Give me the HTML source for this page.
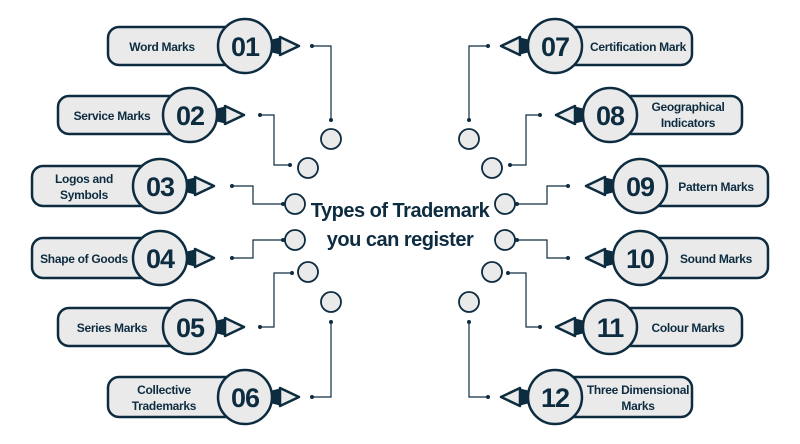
<!DOCTYPE html>
<html><head><meta charset="utf-8"><style>
body{margin:0;background:#fff}
svg{display:block}
text{font-family:"Liberation Sans",sans-serif;fill:#0d2c40}
.l{font-size:12px;font-weight:bold;letter-spacing:-0.3px}
.n{font-size:27px;font-weight:bold;letter-spacing:-1px}
.t{font-size:20px;font-weight:bold;letter-spacing:-0.5px}
</style></head><body>
<svg width="800" height="444" viewBox="0 0 800 444">
<defs>
<g id="arr">
<path d="M0,-6 L8,-8 L8,8 L0,6Z" fill="#0d2c40"/>
<polygon points="8,-9 27,0 8,9" fill="#eaeaea" stroke="#0d2c40" stroke-width="2.5" stroke-linejoin="round"/>
</g>
</defs>
<g id="left" stroke="#0d2c40" fill="#eaeaea">
<!-- connectors -->
<g fill="none" stroke-width="1.2">
<polyline points="312,46 331,46 331,120"/>
<polyline points="260,115 274,115 274,165 290,165"/>
<polyline points="232,186 253,186 253,204 283,204"/>
<polyline points="232,258 253,258 253,240 283,240"/>
<polyline points="260,327 274,327 274,273 292,273"/>
<polyline points="312,397 331,397 331,322"/>
</g>
<g fill="#0d2c40" stroke="none">
<circle cx="312" cy="46" r="2"/><circle cx="331" cy="120" r="2"/>
<circle cx="260" cy="115" r="2"/><circle cx="290" cy="165" r="2"/>
<circle cx="232" cy="186" r="2"/><circle cx="283" cy="204" r="2"/>
<circle cx="232" cy="258" r="2"/><circle cx="283" cy="240" r="2"/>
<circle cx="260" cy="327" r="2"/><circle cx="292" cy="273" r="2"/>
<circle cx="312" cy="397" r="2"/><circle cx="331" cy="322" r="2"/>
</g>
<g stroke-width="1.8">
<circle cx="331" cy="139" r="10"/><circle cx="308" cy="168" r="10"/>
<circle cx="295" cy="204" r="10"/><circle cx="295" cy="240" r="10"/>
<circle cx="308" cy="272" r="10"/><circle cx="331" cy="302" r="10"/>
</g>
<g stroke-width="2.5">
<rect x="108" y="27" width="140" height="38" rx="11"/>
<rect x="58" y="96" width="135" height="38" rx="11"/>
<rect x="32" y="166" width="130" height="40" rx="11"/>
<rect x="32" y="238" width="130" height="40" rx="11"/>
<rect x="58" y="308" width="135" height="38" rx="11"/>
<rect x="108" y="377" width="140" height="40" rx="11"/>
<circle cx="245" cy="46" r="27"/>
<circle cx="190" cy="115" r="27"/>
<circle cx="160" cy="186" r="27"/>
<circle cx="160" cy="258" r="27"/>
<circle cx="190" cy="327" r="27"/>
<circle cx="245" cy="397" r="27"/>
</g>
<use href="#arr" x="272" y="46"/>
<use href="#arr" x="217" y="115"/>
<use href="#arr" x="187" y="186"/>
<use href="#arr" x="187" y="258"/>
<use href="#arr" x="217" y="327"/>
<use href="#arr" x="272" y="397"/>
</g>
<use href="#left" transform="translate(800,0) scale(-1,1)"/>

<g text-anchor="middle">
<text class="l" x="162" y="51">Word Marks</text>
<text class="l" x="112" y="120">Service Marks</text>
<text class="l" x="84" y="183">Logos and</text>
<text class="l" x="84" y="199">Symbols</text>
<text class="l" x="84" y="263">Shape of Goods</text>
<text class="l" x="112" y="332">Series Marks</text>
<text class="l" x="164" y="394">Collective</text>
<text class="l" x="164" y="410">Trademarks</text>
<text class="n" x="245" y="56">01</text>
<text class="n" x="190" y="125">02</text>
<text class="n" x="160" y="196">03</text>
<text class="n" x="160" y="268">04</text>
<text class="n" x="190" y="337">05</text>
<text class="n" x="245" y="407">06</text>

<text class="l" x="638" y="51">Certification Mark</text>
<text class="l" x="688" y="111">Geographical</text>
<text class="l" x="688" y="127">Indicators</text>
<text class="l" x="716" y="191">Pattern Marks</text>
<text class="l" x="716" y="263">Sound Marks</text>
<text class="l" x="688" y="332">Colour Marks</text>
<text class="l" x="638" y="394">Three Dimensional</text>
<text class="l" x="638" y="410">Marks</text>
<text class="n" x="555" y="56">07</text>
<text class="n" x="610" y="125">08</text>
<text class="n" x="640" y="196">09</text>
<text class="n" x="640" y="268">10</text>
<text class="n" x="610" y="337">11</text>
<text class="n" x="555" y="407">12</text>

<text class="t" x="400" y="217">Types of Trademark</text>
<text class="t" x="400" y="246">you can register</text>
</g>
</svg>
</body></html>
